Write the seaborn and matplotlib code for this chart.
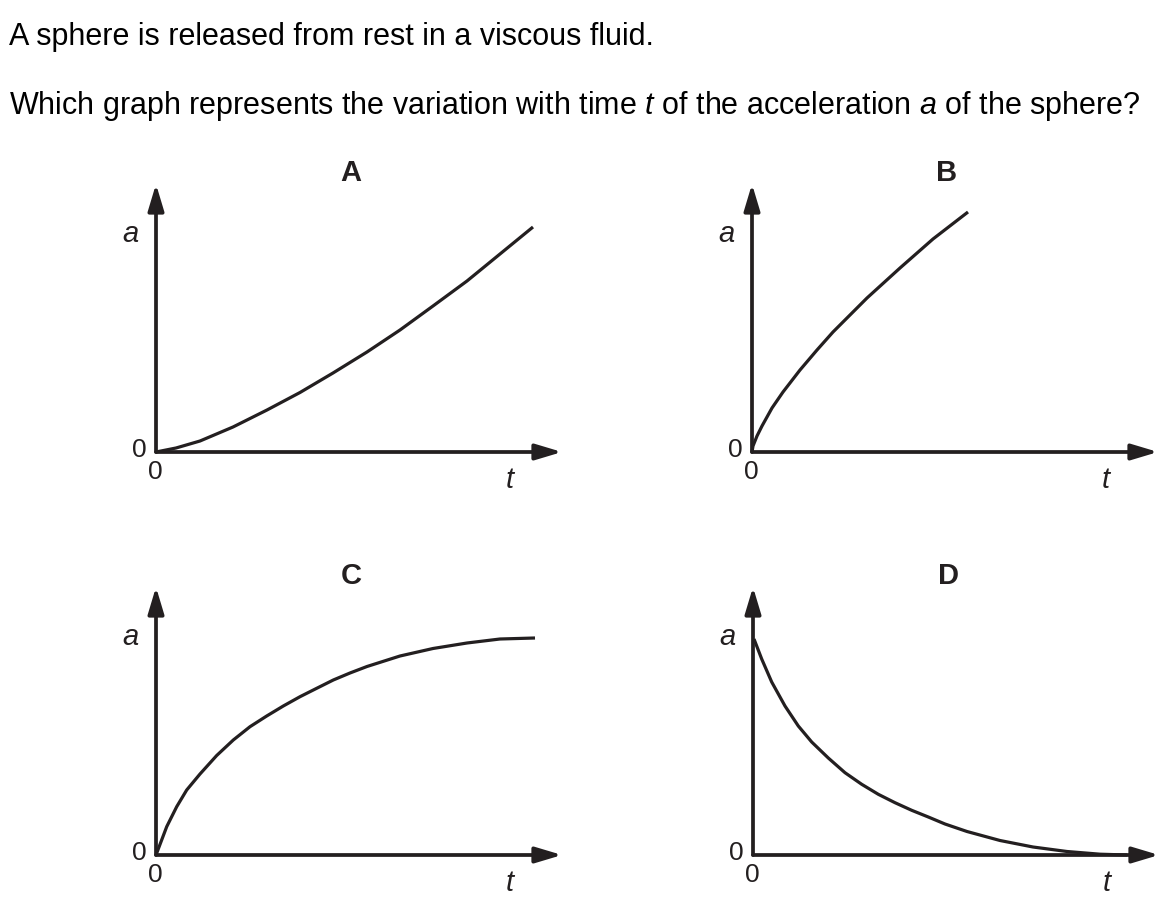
import matplotlib.pyplot as plt
import seaborn as sns

t_A = [0, 2.0, 4.4, 7.7, 11.1, 14.4, 17.7, 21.1, 24.4, 27.7, 31.1, 34.4, 37.7]
a_A = [0, 0.4, 1.1, 2.5, 4.2, 5.95, 7.9, 10.0, 12.2, 14.6, 17.1, 19.8, 22.5]

t_B = [0, 0.1, 0.5, 1.0, 2.0, 3.1, 4.8, 6.5, 8.1, 11.5, 14.8, 18.1, 21.6]
a_B = [0, 0.6, 1.6, 2.6, 4.4, 6.0, 8.2, 10.2, 12.0, 15.4, 18.4, 21.3, 24.0]

t_C = [0, 1.07, 2.07, 3.07, 4.4, 6.07, 7.73, 9.4, 11.07, 12.73, 14.4, 16.07, 17.73,
       19.4, 21.1, 24.4, 27.7, 31.1, 34.4, 37.9]
a_C = [0, 2.83, 4.83, 6.5, 8.1, 9.95, 11.5, 12.83, 13.9, 14.9, 15.83, 16.67, 17.5,
       18.2, 18.85, 19.9, 20.65, 21.2, 21.6, 21.7]

t_D = [0.1, 0.87, 1.87, 3.2, 4.53, 5.87, 7.53, 9.2, 10.87, 12.53, 14.2, 15.87, 17.53,
       19.2, 21.4, 24.7, 28.0, 31.4, 34.7, 37.4]
a_D = [21.6, 19.6, 17.3, 14.9, 12.9, 11.3, 9.7, 8.23, 7.07, 6.07, 5.23, 4.47, 3.8,
       3.1, 2.35, 1.45, 0.8, 0.35, 0.08, 0]

panel_labels = ['A', 'B', 'C', 'D']
curves = [(t_A, a_A), (t_B, a_B), (t_C, a_C), (t_D, a_D)]
# where each panel's origin sits on the page (px from top-left)
origins = [(156, 452), (752, 452), (156, 855), (753, 855)]

line1 = 'A sphere is released from rest in a viscous fluid.'
line2 = 'Which graph represents the variation with time $t$ of the acceleration $a$ of the sphere?'

sns.set_theme(style='white')
plt.rcParams['font.family'] = ['Liberation Sans', 'DejaVu Sans']
plt.rcParams['mathtext.fontset'] = 'custom'
plt.rcParams['mathtext.rm'] = 'Liberation Sans'
plt.rcParams['mathtext.it'] = 'Liberation Sans:italic'

ink = '#231f20'
W, H = 1174, 907
xlo, xhi, ylo, yhi = -6, 44, -5, 30
t_tip, a_tip = 40.6, 26.8

fig = plt.figure(figsize=(W / 100, H / 100), dpi=100)
fig.patch.set_facecolor('white')

fig.text(9 / W, 1 - 45 / H, line1, fontsize=22, color='black', ha='left', va='baseline')
fig.text(9 / W, 1 - 114 / H, line2, fontsize=22, color='black', ha='left', va='baseline')

for label, (t, a), (ox, oy) in zip(panel_labels, curves, origins):
    ax = fig.add_axes([(ox + xlo * 10) / W, (H - (oy - ylo * 10)) / H,
                       (xhi - xlo) * 10 / W, (yhi - ylo) * 10 / H])
    ax.set_xlim(xlo, xhi)
    ax.set_ylim(ylo, yhi)
    ax.patch.set_visible(False)
    ax.set_axis_off()

    sns.lineplot(x=t, y=a, ax=ax, color=ink, lw=2.3, sort=False, estimator=None,
                 solid_joinstyle='round', solid_capstyle='butt')

    # axes with arrow heads
    for tip in [(t_tip, 0), (0, a_tip)]:
        ax.annotate('', xy=tip, xytext=(0, 0),
                    arrowprops=dict(arrowstyle='-|>,head_length=0.8,head_width=0.24',
                                    mutation_scale=20, lw=2.7, color=ink,
                                    shrinkA=0, shrinkB=0))

    ax.text(19.5, 27.9, label, fontsize=21, fontweight='bold', color=ink, ha='center', va='center')
    ax.text(-1.7, 0.2, '0', fontsize=19, color=ink, ha='center', va='center')
    ax.text(-0.1, -2.0, '0', fontsize=19, color=ink, ha='center', va='center')
    ax.text(-2.6, 21.8, 'a', fontsize=21, style='italic', color=ink, ha='center', va='center')
    ax.text(35.4, -2.8, 't', fontsize=21, style='italic', color=ink, ha='center', va='center')

fig.savefig('out.png', dpi=100)
